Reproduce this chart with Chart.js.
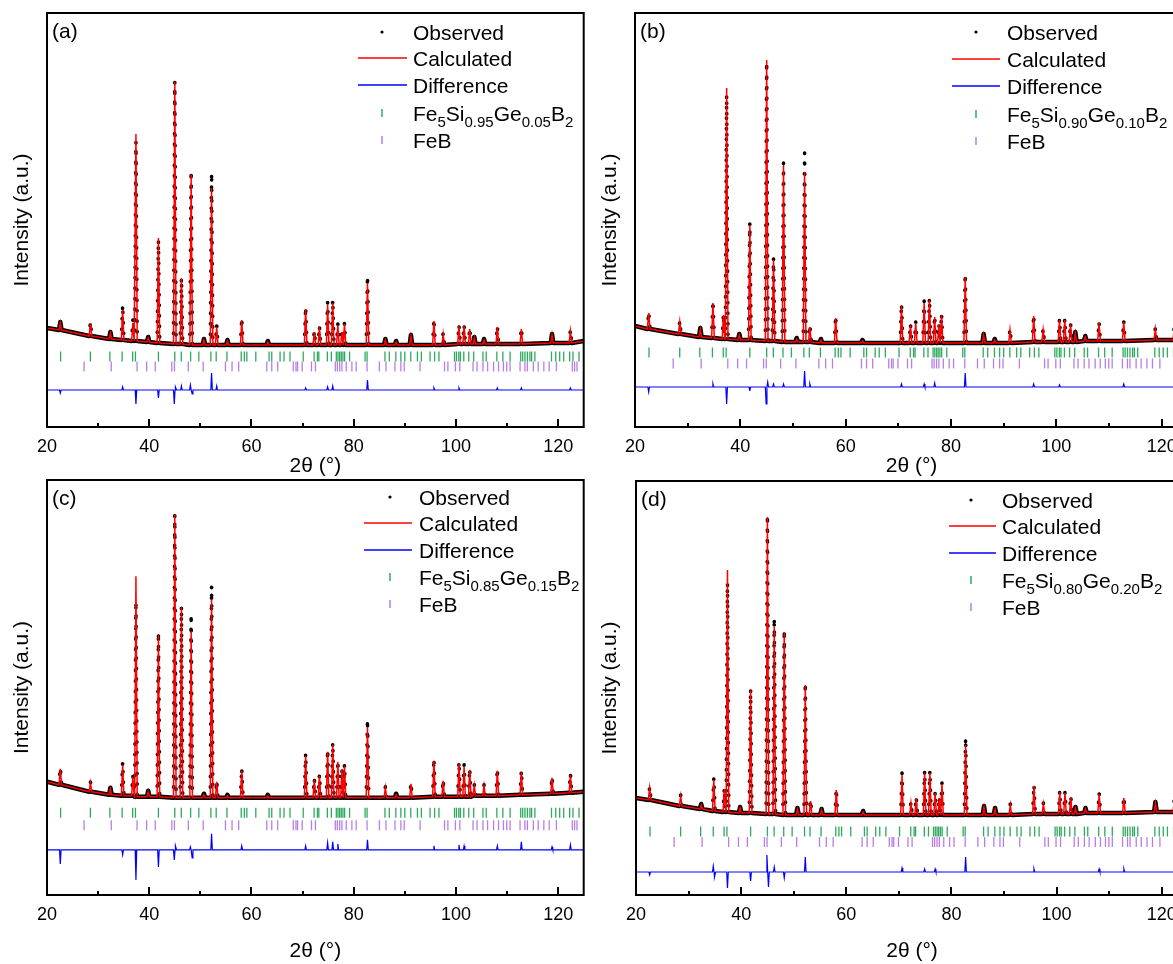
<!DOCTYPE html>
<html>
<head>
<meta charset="utf-8">
<script src="https://cdn.jsdelivr.net/npm/chart.js@4.4.1/dist/chart.umd.min.js"></script>
<style>
  html, body { margin: 0; padding: 0; background: #fff; width: 1173px; height: 964px; overflow: hidden; }
  canvas { position: absolute; }
</style>
</head>
<body>
<canvas id="pa" width="590" height="480" style="left:0;top:0"></canvas>
<canvas id="pb" width="615" height="480" style="left:585px;top:0"></canvas>
<canvas id="pc" width="590" height="494" style="left:0;top:470px"></canvas>
<canvas id="pd" width="615" height="494" style="left:585px;top:470px"></canvas>
<script>
// 2theta of the reflections that show up in the profiles
const peakPos = [22.6, 28.5, 32.4, 34.8, 36.8, 37.4, 39.8, 41.8, 45.0, 46.3, 48.2, 50.7, 52.2, 53.2, 55.3, 58.1, 63.2,
  70.6, 72.3, 73.3, 74.9, 75.9, 76.9, 77.7, 78.2, 82.7, 86.2, 88.3, 91.2, 95.7, 97.5, 100.6, 101.6, 102.7, 103.6,
  105.5, 108.1, 112.8, 118.8, 122.4];

// (a) x = 0.05
const calcA = [104, 104, 94, 117, 104, 293, 89, 189, 345, 149, 252, 87, 239, 100, 86, 107, 85, 118, 95, 100,
  122, 124, 102, 95, 103, 144, 87, 85, 91, 106, 93, 101, 101, 98, 89, 87, 100, 98, 92, 96];
const obsA = [105, 105, 95, 122, 107, 285, 90, 187, 345, 149, 256, 88, 254, 102, 87, 109, 86, 120, 96, 101,
  125, 127, 103, 96, 104, 151, 88, 86, 92, 108, 94, 102, 102, 99, 90, 88, 101, 99, 93, 97];
const bgA = [97, 91, 88, 87, 86, 86, 85, 84, 83, 83, 82, 82, 82, 82, 82, 82, 82, 82, 82, 82,
  82, 82, 82, 82, 82, 82, 82, 82, 82, 82, 82, 83, 83, 83, 83, 83, 83, 83, 84, 84];
const endsA = [99, 86];
const diffPosA = [22.6, 34.8, 37.4, 41.8, 44.9, 45.2, 46.3, 48.05, 48.4, 52.2, 53.2, 70.6, 74.9, 75.9, 82.7, 95.7, 100.6, 108.1, 112.8, 122.4];
const diffValA = [34, 40, 23, 29, 23, 40, 41, 42, 33, 54, 41, 39, 40, 41, 47, 39, 39, 39, 39, 39];
const diffBaseA = 37;

// (b) x = 0.10
const calcB = [114, 105, 98, 124, 112, 339, 92, 202, 367, 167, 262, 88, 255, 100, 87, 109, 86, 121, 102, 104,
  124, 127, 110, 102, 112, 150, 92, 87, 97, 111, 97, 107, 107, 103, 94, 90, 104, 105, 98, 100];
const obsB = [115, 106, 99, 126, 113, 332, 93, 204, 365, 169, 264, 89, 274, 102, 88, 111, 87, 123, 103, 105,
  126, 129, 111, 103, 113, 153, 93, 88, 98, 112, 98, 108, 108, 104, 95, 91, 105, 106, 99, 101];
const bgB = [98, 93, 90, 89, 88, 88, 87, 87, 86, 86, 85, 85, 85, 85, 84, 84, 84, 84, 84, 84,
  84, 84, 84, 84, 84, 84, 84, 84, 84, 85, 85, 85, 85, 85, 85, 86, 86, 86, 87, 87];
const endsB = [101, 88];
const diffPosB = [22.6, 34.8, 37.4, 41.8, 44.9, 45.2, 46.3, 48.2, 52.2, 53.2, 70.6, 74.9, 76.9, 82.7, 95.7, 100.6, 112.8, 122.4];
const diffValB = [35, 43, 23, 36, 23, 45, 43, 43, 56, 43, 43, 43, 44, 54, 43, 42, 43, 43];
const diffBaseB = 40;

// (c) x = 0.15
const calcC = [126, 112, 106, 130, 118, 318, 103, 259, 379, 287, 263, 100, 295, 113, 99, 124, 99, 139, 115, 119,
  143, 150, 133, 125, 129, 167, 107, 100, 111, 134, 114, 131, 128, 125, 109, 109, 124, 123, 117, 120];
const obsC = [127, 113, 107, 132, 119, 293, 104, 262, 379, 288, 280, 101, 308, 114, 100, 126, 100, 141, 116, 120,
  145, 152, 134, 126, 130, 175, 108, 101, 112, 136, 115, 133, 130, 126, 110, 110, 126, 124, 118, 121];
const bgC = [110, 103, 100, 99, 99, 98, 98, 98, 97, 97, 97, 97, 97, 97, 97, 97, 97, 97, 97, 97,
  97, 97, 97, 97, 97, 97, 97, 97, 97, 98, 98, 98, 98, 98, 99, 99, 99, 100, 101, 102];
const endsC = [113, 103];
const diffPosC = [22.6, 34.8, 37.4, 41.8, 44.9, 45.2, 48.05, 48.4, 52.2, 58.1, 70.6, 74.9, 75.9, 76.9, 82.7, 95.7, 100.6, 101.6, 108.1, 112.8, 118.8, 122.4];
const diffValC = [31, 40, 15, 28, 35, 49, 48, 37, 61, 49, 49, 52, 53, 51, 55, 49, 50, 49, 49, 53, 48, 50];
const diffBaseC = 45;

// (d) x = 0.20
const calcD = [107, 99, 90, 115, 106, 325, 87, 205, 378, 268, 263, 86, 210, 94, 85, 105, 83, 120, 92, 97,
  122, 122, 102, 97, 111, 150, 88, 86, 90, 109, 91, 103, 102, 98, 87, 86, 101, 97, 92, 95];
const obsD = [108, 100, 91, 117, 107, 312, 88, 206, 380, 277, 265, 87, 212, 95, 86, 106, 84, 122, 93, 98,
  124, 124, 103, 98, 112, 157, 89, 87, 91, 110, 92, 104, 103, 99, 88, 87, 102, 98, 93, 96];
const bgD = [95, 89, 86, 84, 83, 83, 82, 82, 81, 81, 80, 80, 80, 80, 80, 80, 80, 80, 80, 80,
  80, 80, 80, 80, 80, 80, 80, 80, 80, 81, 81, 81, 81, 81, 81, 82, 82, 82, 83, 83];
const endsD = [97, 84];
const diffPosD = [22.6, 34.7, 35.0, 37.4, 41.8, 44.9, 45.2, 46.3, 48.2, 52.2, 70.6, 74.9, 76.9, 82.7, 95.7, 108.1, 112.8];
const diffValD = [20, 29, 18, 7, 14, 40, 8, 28, 17, 38, 27, 26, 26, 38, 26, 26, 26];
const diffBaseD = 23;

// Bragg reflection markers
const mainTicks = [22.66, 28.49, 32.3, 34.7, 36.76, 37.3, 41.8, 45.0, 46.27, 48.1, 49.7, 52.06, 53.1, 55.2, 58.0,
  58.6, 59.1, 60.85, 63.45, 63.97, 65.6, 66.37, 67.54, 70.13, 72.26, 72.9, 73.18, 74.85, 75.63, 76.6, 76.93, 77.26,
  77.57, 77.9, 78.23, 79.2, 82.23, 82.62, 86.12, 86.97, 88.25, 89.23, 90.0, 91.17, 92.47, 93.25, 94.94, 95.83,
  96.68, 99.72, 100.1, 100.57, 100.88, 101.54, 102.51, 103.48, 105.29, 105.93, 108.01, 109.18, 110.6, 112.68,
  113.07, 113.51, 113.98, 114.48, 114.81, 115.45, 118.7, 119.53, 120.3, 121.09, 122.25, 122.9, 124.08];
const febTicks = [27.25, 32.57, 37.62, 39.49, 41.18, 44.42, 44.93, 47.65, 50.56, 54.91, 56.2, 57.5, 63.0, 63.97,
  65.13, 68.18, 68.71, 69.02, 69.93, 71.74, 72.52, 76.4, 76.8, 77.26, 77.7, 78.54, 79.65, 80.49, 82.62, 85.03,
  86.32, 88.07, 89.23, 89.88, 92.99, 97.77, 98.43, 99.9, 100.76, 103.35, 104.13, 105.29, 106.2, 107.37, 108.34,
  109.3, 109.95, 110.6, 112.55, 113.5, 113.98, 115.15, 116.1, 117.2, 118.25, 119.66, 122.77, 123.22, 123.69];

const xTickValues = [20, 40, 60, 80, 100, 120];
const xMinorTicks = [30, 50, 70, 90, 110];
const siParts = ['0.95', '0.90', '0.85', '0.80'];
const geParts = ['0.05', '0.10', '0.15', '0.20'];

const FONT = '"Liberation Sans", Arial, sans-serif';
Chart.defaults.font.family = FONT;
Chart.defaults.color = '#000';

const HALF = 0.25;

function profile(top, bg, ends) {
  const pts = [{ x: 20, y: ends[0] }];
  peakPos.forEach((p, i) => {
    pts.push({ x: p - HALF, y: bg[i] }, { x: p, y: top[i] }, { x: p + HALF, y: bg[i] });
  });
  pts.push({ x: 125, y: ends[1] });
  return pts;
}

function diffLine(pos, val, base) {
  const pts = [{ x: 20, y: base }];
  pos.forEach((p, i) => {
    pts.push({ x: p - 0.15, y: base }, { x: p, y: val[i] }, { x: p + 0.15, y: base });
  });
  pts.push({ x: 125, y: base });
  return pts;
}

const steep = c => Math.abs(c.p1.y - c.p0.y) > 10;

// frame, inward ticks, panel letter and legend
const xrdPlugin = {
  id: 'xrd',
  afterDatasetsDraw(chart, args, o) {
    const { ctx, chartArea: a } = chart;
    const x = chart.scales.x;
    ctx.save();
    ctx.strokeStyle = '#000';
    ctx.lineWidth = 2;
    ctx.strokeRect(a.left, a.top, a.right - a.left, a.bottom - a.top);
    const tick = (v, len) => {
      const px = Math.round(x.getPixelForValue(v));
      ctx.beginPath();
      ctx.moveTo(px, a.bottom);
      ctx.lineTo(px, a.bottom - len);
      ctx.stroke();
    };
    xTickValues.forEach(v => tick(v, 8));
    xMinorTicks.forEach(v => tick(v, 4));

    ctx.fillStyle = '#000';
    ctx.textBaseline = 'alphabetic';
    ctx.font = '21px ' + FONT;
    ctx.fillText(o.letter, a.left + o.letterX, a.top + 25);

    const L = o.legend;
    const rowY = L.rows.map(r => a.top + r);
    const tx = a.left + L.textX;
    // Observed
    ctx.beginPath();
    ctx.arc(a.left + L.dotX, rowY[0], 1.6, 0, Math.PI * 2);
    ctx.fill();
    // Calculated / Difference
    [['#ff0000', 1], ['#0000ff', 2]].forEach(([c, i]) => {
      ctx.strokeStyle = c;
      ctx.lineWidth = 1.5;
      ctx.beginPath();
      ctx.moveTo(a.left + L.lineX[0], rowY[i]);
      ctx.lineTo(a.left + L.lineX[1], rowY[i]);
      ctx.stroke();
    });
    // phase markers
    [['#2eaa5c', 3], ['#b77fe6', 4]].forEach(([c, i]) => {
      ctx.strokeStyle = c;
      ctx.lineWidth = 1.5;
      ctx.beginPath();
      ctx.moveTo(a.left + L.dotX, rowY[i] - 4);
      ctx.lineTo(a.left + L.dotX, rowY[i] + 4);
      ctx.stroke();
    });
    ctx.fillStyle = '#000';
    ctx.font = '21px ' + FONT;
    ['Observed', 'Calculated', 'Difference'].forEach((t, i) => ctx.fillText(t, tx, rowY[i] + 7.5));
    ctx.fillText('FeB', tx, rowY[4] + 7.5);
    const parts = [['Fe', 0], ['5', 1], ['Si', 0], [o.si, 1], ['Ge', 0], [o.ge, 1], ['B', 0], ['2', 1]];
    let cx = tx;
    parts.forEach(([t, sub]) => {
      ctx.font = (sub ? '15px ' : '21px ') + FONT;
      ctx.fillText(t, cx, rowY[3] + 7.5 + (sub ? 6 : 0));
      cx += ctx.measureText(t).width;
    });
    ctx.restore();
  }
};

function makePanel(id, p) {
  new Chart(document.getElementById(id), {
    type: 'line',
    data: {
      datasets: [
        { label: 'Calculated', data: profile(p.calc, p.bg, p.ends), borderColor: '#ff0000', borderWidth: 1.5,
          pointRadius: 0, order: 0 },
        { label: 'Observed', data: profile(p.obs, p.bg, p.ends), borderColor: '#000', borderWidth: 4.5,
          borderCapStyle: 'round', borderJoinStyle: 'round', pointRadius: 0, order: 1,
          segment: {
            borderDash: c => steep(c) ? [0.5, 10] : undefined,
            borderWidth: c => steep(c) ? 3.6 : undefined
          } },
        { label: 'Difference', data: diffLine(p.diffPos, p.diffVal, p.diffBase), borderColor: '#0000ff',
          borderWidth: 1.2, pointRadius: 0, order: 2 },
        { label: 'Fe5SiGeB2', data: mainTicks.map(v => ({ x: v, y: p.tickY[0] })), showLine: false,
          pointStyle: 'line', pointRadius: 5, pointRotation: 90, pointBorderColor: '#2eaa5c',
          pointBorderWidth: 1.3, order: 3 },
        { label: 'FeB', data: febTicks.map(v => ({ x: v, y: p.tickY[1] })), showLine: false,
          pointStyle: 'line', pointRadius: 5, pointRotation: 90, pointBorderColor: '#b77fe6',
          pointBorderWidth: 1.3, order: 4 }
      ]
    },
    options: {
      responsive: false,
      animation: false,
      events: [],
      layout: { padding: { top: p.padTop, right: p.padRight, left: 0, bottom: 0 } },
      elements: { line: { tension: 0 } },
      scales: {
        x: {
          type: 'linear', min: 20, max: 125,
          afterBuildTicks: s => { s.ticks = xTickValues.map(v => ({ value: v })); },
          afterFit: s => { s.height = p.xHeight; },
          grid: { display: false, drawTicks: false },
          border: { display: false },
          ticks: { font: { size: 18 }, color: '#000', padding: 9, maxRotation: 0, autoSkip: false },
          title: { display: true, text: '2θ (°)', font: { size: 21 }, color: '#000',
            padding: { top: 0, bottom: p.xTitlePad } }
        },
        y: {
          min: 0, max: 414,
          afterFit: s => { s.width = p.yWidth; },
          grid: { display: false, drawTicks: false },
          border: { display: false },
          ticks: { display: false },
          title: { display: true, text: 'Intensity (a.u.)', font: { size: 21 }, color: '#000',
            padding: { top: p.yTitlePad, bottom: 0 } }
        }
      },
      plugins: {
        legend: { display: false },
        tooltip: { enabled: false },
        xrd: { letter: p.letter, letterX: 5, legend: p.legend, si: p.si, ge: p.ge }
      }
    },
    plugins: [xrdPlugin]
  });
}

makePanel('pa', { letter: '(a)', calc: calcA, obs: obsA, bg: bgA, ends: endsA,
  diffPos: diffPosA, diffVal: diffValA, diffBase: diffBaseA, tickY: [70.5, 60.5],
  si: siParts[0], ge: geParts[0], padTop: 13, padRight: 3, yWidth: 47, xHeight: 53, xTitlePad: 1.4, yTitlePad: 9.4,
  legend: { dotX: 335, lineX: [311, 360], textX: 366, rows: [19, 45, 72, 100, 127] } });

makePanel('pb', { letter: '(b)', calc: calcB, obs: obsB, bg: bgB, ends: endsB,
  diffPos: diffPosB, diffVal: diffValB, diffBase: diffBaseB, tickY: [74.5, 63.5],
  si: siParts[1], ge: geParts[1], padTop: 13, padRight: 12, yWidth: 50, xHeight: 53, xTitlePad: 1.4, yTitlePad: 12.4,
  legend: { dotX: 341, lineX: [317, 365], textX: 372, rows: [19, 46, 73, 101, 128] } });

makePanel('pc', { letter: '(c)', calc: calcC, obs: obsC, bg: bgC, ends: endsC,
  diffPos: diffPosC, diffVal: diffValC, diffBase: diffBaseC, tickY: [82, 69.5],
  si: siParts[2], ge: geParts[2], padTop: 10, padRight: 3, yWidth: 47, xHeight: 69, xTitlePad: 0.4, yTitlePad: 9.4,
  legend: { dotX: 343, lineX: [317, 365], textX: 372, rows: [17, 43, 70, 97, 124] } });

makePanel('pd', { letter: '(d)', calc: calcD, obs: obsD, bg: bgD, ends: endsD,
  diffPos: diffPosD, diffVal: diffValD, diffBase: diffBaseD, tickY: [63.5, 53],
  si: siParts[3], ge: geParts[3], padTop: 11, padRight: 12, yWidth: 51, xHeight: 69, xTitlePad: 0.4, yTitlePad: 12.4,
  legend: { dotX: 335, lineX: [313, 360], textX: 366, rows: [19, 45, 72, 99, 126] } });
</script>
</body>
</html>
